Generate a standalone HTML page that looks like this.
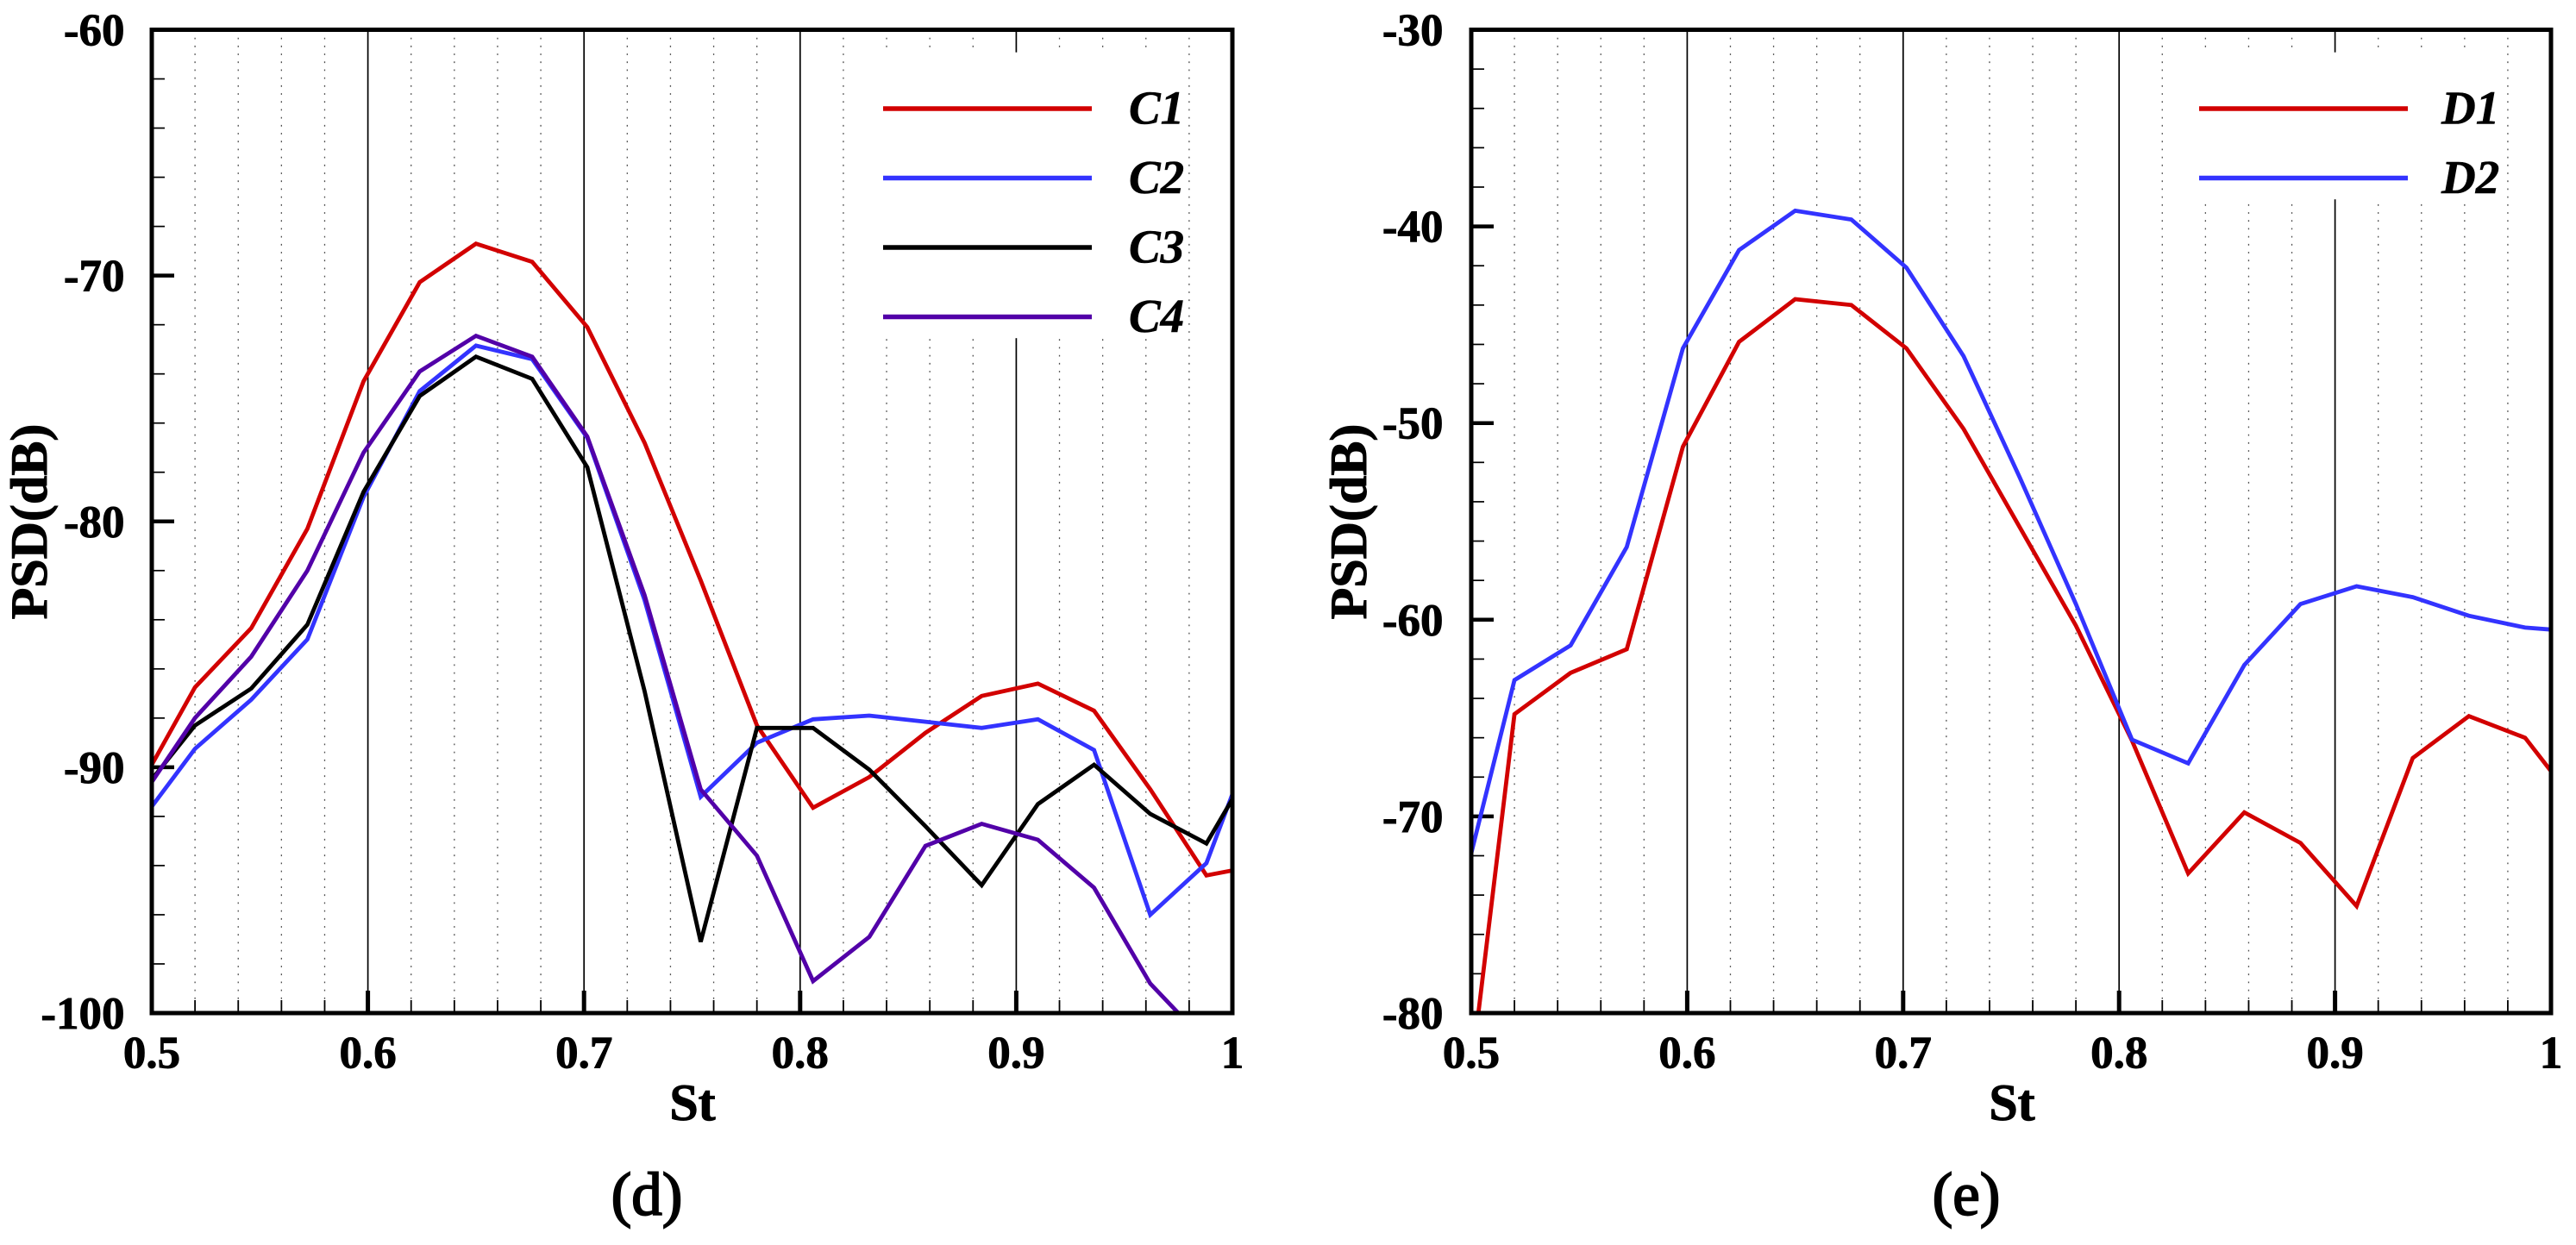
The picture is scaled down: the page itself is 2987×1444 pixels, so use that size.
<!DOCTYPE html>
<html lang="en">
<head>
<meta charset="utf-8">
<title>PSD versus St</title>
<style>
html,body{margin:0;padding:0;background:#fff;}
svg{display:block;}
text{font-family:"Liberation Serif",serif;fill:#000;}
.tick{font-size:53px;font-weight:bold;stroke:#000;stroke-width:0.9px;}
.title{font-size:60px;font-weight:bold;stroke:#000;stroke-width:1px;}
.leg{font-size:55px;font-weight:bold;font-style:italic;stroke:#000;stroke-width:0.6px;}
.cap{font-size:71px;stroke:#000;stroke-width:1.9px;}
</style>
</head>
<body>
<svg id="chart" xmlns="http://www.w3.org/2000/svg" width="2987" height="1444" viewBox="0 0 2987 1444">
<rect width="2987" height="1444" fill="#fff"/>
<g id="panel-d"></g>
<g id="panel-e"></g>
<text class="title" x="803" y="1299" text-anchor="middle">St</text>
<text class="title" transform="translate(54 605) rotate(-90)" text-anchor="middle">PSD(dB)</text>
<text class="cap" x="750" y="1409" text-anchor="middle">(d)</text>
<text class="title" x="2333" y="1299" text-anchor="middle">St</text>
<text class="title" transform="translate(1584 605) rotate(-90)" text-anchor="middle">PSD(dB)</text>
<text class="cap" x="2280" y="1409" text-anchor="middle">(e)</text>
</svg>
<script>
var stValues = [0.5,0.52,0.546,0.572,0.598,0.624,0.65,0.676,0.7015,0.728,0.754,0.78,0.806,0.832,0.858,0.884,0.91,0.936,0.962,0.988,1.0];
var c1Values = [-89.9,-86.75,-84.34,-80.3,-74.3,-70.27,-68.7,-69.44,-72.1,-76.8,-82.4,-88.3,-91.65,-90.4,-88.6,-87.1,-86.6,-87.7,-90.9,-94.4,-94.2];
var c2Values = [-91.6,-89.25,-87.25,-84.8,-79,-74.7,-72.85,-73.4,-76.6,-83.2,-91.2,-89,-88.05,-87.9,-88.15,-88.4,-88.05,-89.3,-96,-93.9,-91.1];
var c3Values = [-90.5,-88.3,-86.8,-84.2,-78.8,-74.9,-73.3,-74.2,-77.8,-86.9,-97.1,-88.4,-88.4,-90.1,-92.4,-94.8,-91.5,-89.9,-91.9,-93.1,-91.3];
var c4Values = [-90.6,-88,-85.5,-82,-77.2,-73.9,-72.45,-73.3,-76.55,-83,-90.9,-93.6,-98.7,-96.9,-93.2,-92.3,-92.95,-94.9,-98.8,-101.2,-103];
var d1Values = [-83,-64.8,-62.7,-61.5,-51.2,-45.87,-43.7,-44,-46.2,-50.3,-55.3,-60.3,-66.15,-72.9,-69.8,-71.35,-74.56,-67.03,-64.9,-66,-67.7];
var d2Values = [-71.87,-63.07,-61.3,-56.3,-46.2,-41.2,-39.2,-39.65,-42.1,-46.6,-52.76,-59.2,-66.1,-67.3,-62.3,-59.2,-58.3,-58.85,-59.8,-60.4,-60.5];
var xMajorTicks = [0.5,0.6,0.7,0.8,0.9,1];
var xTickLabels = ["0.5","0.6","0.7","0.8","0.9","1"];
var yTicksD = [-60,-70,-80,-90,-100];
var yTicksE = [-30,-40,-50,-60,-70,-80];
var seriesNamesD = ["C1","C2","C3","C4"];
var seriesNamesE = ["D1","D2"];

var NS = "http://www.w3.org/2000/svg";
var RED = "#d20000", BLUE = "#3333ff", BLACK = "#000000", PURPLE = "#5200a8";

function make(parent, tag, attrs) {
  var node = document.createElementNS(NS, tag);
  for (var k in attrs) { node.setAttribute(k, attrs[k]); }
  parent.appendChild(node);
  return node;
}

function drawPanel(cfg) {
  var root = document.getElementById(cfg.id);
  var left = cfg.left, right = cfg.right, top = 34.5, bottom = 1175;
  var yMax = cfg.yTicks[0], yMin = cfg.yTicks[cfg.yTicks.length - 1];
  function xScale(v) { return left + (v - 0.5) / 0.5 * (right - left); }
  function yScale(v) { return top + (yMax - v) / (yMax - yMin) * (bottom - top); }
  var el, i, v;

  // dotted minor gridlines and minor x ticks
  for (i = 1; i < 25; i++) {
    if (i % 5 === 0) { continue; }
    v = 0.5 + i * 0.02;
    el = make(root, "line", {x1: xScale(v), x2: xScale(v), y1: top, y2: bottom, stroke: "#000", "stroke-opacity": 0.7, "stroke-width": 1.3, "stroke-dasharray": "1.8 7.4"});
    
    
    el = make(root, "line", {x1: xScale(v), x2: xScale(v), y1: bottom - 15, y2: bottom, stroke: "#000", "stroke-width": 1.8});
    
    
  }

  // major gridlines, major x ticks and labels
  xMajorTicks.forEach(function (t, idx) {
    var g;
    if (t > 0.5 && t < 1) {
      g = make(root, "line", {x1: xScale(t), x2: xScale(t), y1: top, y2: bottom, stroke: "#000", "stroke-width": 1.7});
      
      
      g = make(root, "line", {x1: xScale(t), x2: xScale(t), y1: bottom - 26, y2: bottom, stroke: "#000", "stroke-width": 5});
      
      
    }
    g = make(root, "text", {"class": "tick", x: xScale(t), y: 1238.5, "text-anchor": "middle"});
    g.textContent = xTickLabels[idx];
    
    
  });

  // y ticks
  for (v = yMin; v <= yMax; v += 2) {
    if (v % 10 === 0) { continue; }
    el = make(root, "line", {x1: left, x2: left + 15, y1: yScale(v), y2: yScale(v), stroke: "#000", "stroke-width": 1.7});
    
    
  }
  cfg.yTicks.forEach(function (t) {
    var g;
    if (t !== yMax && t !== yMin) {
      g = make(root, "line", {x1: left, x2: left + 26, y1: yScale(t), y2: yScale(t), stroke: "#000", "stroke-width": 4.5});
      
      
    }
    g = make(root, "text", {"class": "tick", x: cfg.labelRight, y: yScale(t) + 18, "text-anchor": "end"});
    g.textContent = String(t);
    
    
  });

  // legend backdrop hides the grid behind it
  el = make(root, "rect", {x: cfg.legend.x, y: 60.7, width: cfg.legend.w, height: cfg.legend.h, fill: "#fff"});
  
  

  // clip for the data lines
  var defs = make(root, "defs", {});
  var clip = make(defs, "clipPath", {id: cfg.id + "-clip"});
  make(clip, "rect", {x: left, y: top, width: right - left, height: bottom - top});

  // series
  cfg.series.forEach(function (s, idx) {
    var pts = stValues.map(function (st, j) {
      return xScale(st).toFixed(1) + "," + yScale(s.values[j]).toFixed(1);
    }).join(" ");
    var line = make(root, "polyline", {points: pts, fill: "none", stroke: s.color, "stroke-width": 4.8, "stroke-linejoin": "miter", "clip-path": "url(#" + cfg.id + "-clip)"});
    
    

    var ly = 126 + idx * 80.5;
    var key = make(root, "line", {x1: cfg.legend.lineX1, x2: cfg.legend.lineX2, y1: ly, y2: ly, stroke: s.color, "stroke-width": 5.6});
    
    
    var label = make(root, "text", {"class": "leg", x: cfg.legend.textX, y: ly + 17.5});
    label.textContent = s.name;
    
    
  });

  // frame
  el = make(root, "rect", {x: left, y: top, width: right - left, height: bottom - top, fill: "none", stroke: "#000", "stroke-width": 5});
  
  
}

drawPanel({
  id: "panel-d", left: 176, right: 1429, labelRight: 144.5, yTicks: yTicksD,
  legend: {x: 990, w: 380, h: 331.5, lineX1: 1024, lineX2: 1266, textX: 1309},
  series: [
    {name: seriesNamesD[0], values: c1Values, color: RED},
    {name: seriesNamesD[1], values: c2Values, color: BLUE},
    {name: seriesNamesD[2], values: c3Values, color: BLACK},
    {name: seriesNamesD[3], values: c4Values, color: PURPLE}
  ]
});
drawPanel({
  id: "panel-e", left: 1706, right: 2958, labelRight: 1673.5, yTicks: yTicksE,
  legend: {x: 2515, w: 382, h: 170.5, lineX1: 2550, lineX2: 2792, textX: 2831},
  series: [
    {name: seriesNamesE[0], values: d1Values, color: RED},
    {name: seriesNamesE[1], values: d2Values, color: BLUE}
  ]
});
</script>
</body>
</html>
